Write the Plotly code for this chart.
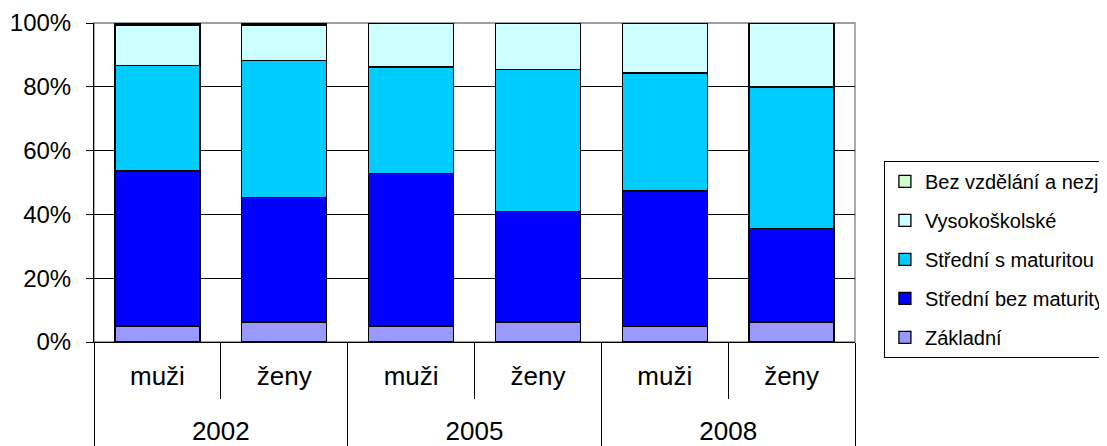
import plotly.graph_objects as go

years = ["2002", "2002", "2005", "2005", "2008", "2008"]
sexes = ["muži", "ženy", "muži", "ženy", "muži", "ženy"]

zakladni = [5.0, 6.3, 5.0, 6.3, 4.9, 6.3]
stredni_bez = [48.6, 38.9, 47.9, 34.7, 42.4, 29.2]
stredni_s = [33.1, 43.0, 33.3, 44.4, 37.0, 44.4]
vysokoskolske = [12.7, 11.2, 13.8, 14.6, 15.7, 20.1]
bez_vzdelani = [0.6, 0.6, 0.0, 0.0, 0.0, 0.0]

series = [
    ("Základní", zakladni, "#9999FF"),
    ("Střední bez maturity", stredni_bez, "#0000FF"),
    ("Střední s maturitou", stredni_s, "#00CCFF"),
    ("Vysokoškolské", vysokoskolske, "#CCFFFF"),
    ("Bez vzdělání a nezjištěno", bez_vzdelani, "#CCFFCC"),
]

y_ticks = [0, 20, 40, 60, 80, 100]
y_ticktext = ["0%", "20%", "40%", "60%", "80%", "100%"]

FONT = "Arial, Liberation Sans, sans-serif"

# second-level labels pushed down one line (as in the reference layout)
year_labels = ["<br>" + y for y in years]

fig = go.Figure()
n = len(series)
for i, (name, vals, color) in enumerate(series):
    fig.add_trace(go.Bar(
        x=[year_labels, sexes], y=vals, name=name, legendgroup=str(i),
        legendrank=n - i,
        marker=dict(color=color, line=dict(color="black", width=1.3)),
    ))

fig.update_layout(
    width=1099, height=438,
    barmode="stack", bargap=0.33,
    plot_bgcolor="white", paper_bgcolor="white",
    margin=dict(l=86, r=252, t=15, b=104, autoexpand=False),
    font=dict(family=FONT, color="black"),
    showlegend=True,
    legend=dict(
        x=1.038, xanchor="left", y=-0.05, yanchor="bottom",
        traceorder="grouped", tracegroupgap=10,
        font=dict(size=20, family=FONT, color="black"),
        bordercolor="black", borderwidth=1, bgcolor="white",
        itemwidth=30,
    ),
    shapes=[dict(type="rect", xref="paper", yref="paper", x0=0, x1=1, y0=0, y1=1,
                 line=dict(color="#808080", width=1.3), layer="below")],
)

fig.update_yaxes(
    range=[0, 100], tickvals=y_ticks, ticktext=y_ticktext,
    showgrid=True, gridcolor="black", gridwidth=1,
    showline=True, linecolor="black", linewidth=1,
    ticks="outside", ticklen=7, tickcolor="black",
    ticklabelstandoff=10,
    tickfont=dict(size=24, family=FONT, color="black"),
    zeroline=False,
)
fig.update_xaxes(
    type="multicategory",
    showline=True, linecolor="black", linewidth=1,
    ticks="outside", tickson="boundaries", ticklen=56, tickcolor="black",
    ticklabelstandoff=11,
    showdividers=True, dividercolor="black", dividerwidth=1,
    tickfont=dict(size=26, family=FONT, color="black"),
)

fig.write_html("out.html")
